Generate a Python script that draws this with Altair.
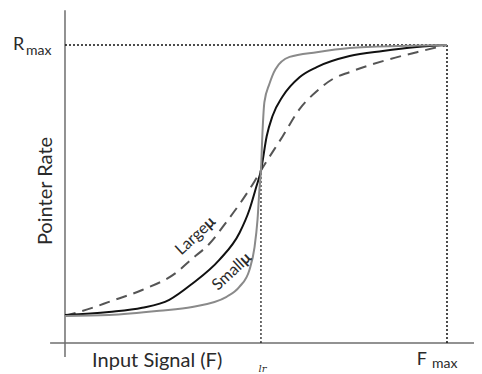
import altair as alt
import pandas as pd

# Curves: x = input signal (% of F_max), y = pointer rate (% of R_max)
small_x = [0, 11.5, 24.7, 33.3, 42.3, 45.7, 48.3, 49.6, 50.4, 50.9, 51.3, 51.7, 52.2, 53.5, 55.1, 58.8, 65.9, 74.5, 87.7, 100]
small_y = [9.1, 9.4, 10.8, 12.1, 15.5, 18.9, 24.6, 32.0, 41.4, 51.5, 57.9, 70.7, 80.8, 86.9, 91.9, 96.0, 97.6, 99.0, 99.7, 100]

mid_x = [0, 11.5, 20.2, 27.3, 33.3, 40.4, 45.7, 48.3, 50.1, 51.3, 52.8, 54.3, 57.0, 61.4, 65.9, 74.5, 83.2, 92.1, 100]
mid_y = [9.4, 10.4, 11.8, 14.5, 19.9, 27.9, 37.0, 44.8, 52.5, 57.9, 69.4, 76.1, 82.8, 89.2, 92.6, 96.3, 98.0, 99.3, 100]

large_x = [0, 7.1, 11.5, 20.2, 29.1, 33.3, 37.8, 42.3, 46.5, 49.6, 51.3, 57.0, 61.4, 65.9, 70.1, 74.5, 83.2, 92.1, 100]
large_y = [9.1, 11.8, 13.8, 17.8, 23.6, 28.3, 33.3, 40.7, 48.1, 54.2, 57.9, 69.4, 78.5, 84.5, 88.6, 90.9, 94.6, 97.6, 100]

LR_X = 51.3
LR_Y = 57.9
F_MAX = 100
R_MAX = 100

XD = [-14.92, 107.07]
YD = [-10.40, 112.42]
xs = alt.Scale(domain=XD, nice=False, zero=False)
ys = alt.Scale(domain=YD, nice=False, zero=False)

FONT = "Lato"
AXC = "#6e6e6e"
TXT = "#2a2a2a"


def curve(xv, yv, color, dash=None):
    df = pd.DataFrame({"x": xv, "y": yv, "o": list(range(len(xv)))})
    kw = dict(color=color, strokeWidth=2, interpolate="monotone", clip=False)
    if dash:
        kw["strokeDash"] = dash
    return alt.Chart(df).mark_line(**kw).encode(
        x=alt.X("x:Q", scale=xs, axis=None),
        y=alt.Y("y:Q", scale=ys, axis=None),
        order="o:Q",
    )


def hrule(x1, x2, y, color, width, dash=None):
    kw = dict(color=color, strokeWidth=width)
    if dash:
        kw["strokeDash"] = dash
    return alt.Chart().mark_rule(**kw).encode(
        x=alt.XDatum(x1, scale=xs, axis=None),
        x2=alt.X2Datum(x2),
        y=alt.YDatum(y, scale=ys, axis=None),
    )


def vrule(x, y1, y2, color, width, dash=None):
    kw = dict(color=color, strokeWidth=width)
    if dash:
        kw["strokeDash"] = dash
    return alt.Chart().mark_rule(**kw).encode(
        x=alt.XDatum(x, scale=xs, axis=None),
        y=alt.YDatum(y1, scale=ys, axis=None),
        y2=alt.Y2Datum(y2),
    )


def label(text, x, y, size, align="left", baseline="alphabetic", angle=0,
          weight="normal", style="normal", font=FONT, color=TXT):
    kw = dict(text=text, fontSize=size, align=align, baseline=baseline, font=font,
              fontWeight=weight, fontStyle=style, color=color)
    if angle:
        kw["angle"] = angle
    return alt.Chart().mark_text(**kw).encode(
        x=alt.XDatum(x, scale=xs, axis=None),
        y=alt.YDatum(y, scale=ys, axis=None),
    )


DOT = [2, 2]

layers = [
    # axes
    vrule(0, -4.7, 111.7, AXC, 1.5),
    hrule(-3.9, XD[1], 0, AXC, 1.5),
    # dotted guides
    hrule(0, F_MAX, R_MAX, "#111", 1.5, DOT),
    vrule(F_MAX, 0, R_MAX, "#111", 1.5, DOT),
    vrule(LR_X, 0, LR_Y, "#111", 1.2, DOT),
    # curves
    curve(large_x, large_y, "#555555", [11, 7]),
    curve(mid_x, mid_y, "#111111"),
    curve(small_x, small_y, "#8a8a8a"),
    # labels
    label("R", -13.6, 98.3, 18),
    label("max", -10.2, 96.6, 14),
    label("F", 92.1, -7.4, 18),
    label("max", 96.1, -8.4, 14),
    label("Input Signal (F)", 7.1, -8.05, 20),
    label("Pointer Rate", -5.1, 51.0, 20, align="center", baseline="middle", angle=270),
    label("lr", LR_X + 0.4, -9.7, 10, align="center", style="italic", font="DejaVu Serif"),
    label("Large", 36.9, 39.3, 16, align="right", baseline="middle", angle=317),
    label("μ", 36.9, 39.3, 16, align="left", baseline="middle", angle=317, weight="bold"),
    label("Small", 46.3, 27.2, 16, align="right", baseline="middle", angle=317),
    label("μ", 46.3, 27.2, 16, align="left", baseline="middle", angle=317, weight="bold"),
]

chart = alt.layer(*layers).properties(
    width=466, height=366,
    autosize=alt.AutoSizeParams(type="none"),
    padding=0,
    background="white",
).configure_view(stroke=None)

chart.save("out.html", embed_options={"renderer": "svg", "actions": False})
